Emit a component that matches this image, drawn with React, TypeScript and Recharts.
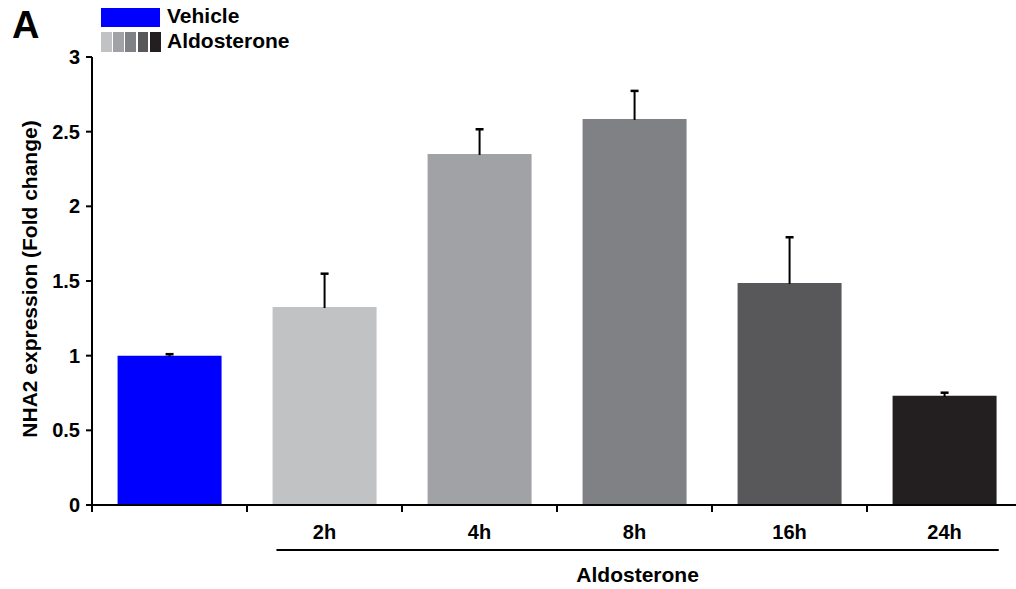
import { BarChart, Bar, XAxis, YAxis, Rectangle } from "recharts";

const FONT = '"Liberation Sans", Arial, Helvetica, sans-serif';

const categories = ["Vehicle", "2h", "4h", "8h", "16h", "24h"];
const tickLabels = ["", "2h", "4h", "8h", "16h", "24h"];
const means = [1.0, 1.326, 2.351, 2.585, 1.487, 0.732];
const sems = [0.01, 0.223, 0.165, 0.188, 0.306, 0.02];
const barColors = ["#0000FF", "#C1C2C4", "#A1A2A6", "#808185", "#58585A", "#231F20"];
const yTicks = [0, 0.5, 1, 1.5, 2, 2.5, 3];

const data = categories.map((name, i) => ({
  name,
  value: means[i],
  err: sems[i],
  color: barColors[i],
}));

// bar + one-sided (upward) error bar, error length scaled off the bar's own pixel height
const BarWithError = (props: any) => {
  const { x, y, width, height, payload } = props;
  if (!payload) return null;
  const cx = x + width / 2;
  const errPx = payload.value ? (height * payload.err) / payload.value : 0;
  const top = y - errPx;
  return (
    <g>
      <Rectangle x={x} y={y} width={width} height={height} fill={payload.color} />
      <line x1={cx} x2={cx} y1={y + 1} y2={top} stroke="#000" strokeWidth={2} />
      <line x1={cx - 4} x2={cx + 4} y1={top} y2={top} stroke="#000" strokeWidth={2.5} />
    </g>
  );
};

// tick marks sit on the band edges, labels at band centres
const XTick = (props: any) => {
  const { x, y, width, index } = props;
  const band = width / categories.length;
  const left = x - band / 2;
  return (
    <g>
      <line x1={left} x2={left} y1={y} y2={y + 7} stroke="#000" strokeWidth={2} />
      <text
        x={x}
        y={y + 34}
        textAnchor="middle"
        fontSize={20}
        fontWeight="bold"
        fontFamily={FONT}
        fill="#000"
      >
        {tickLabels[index]}
      </text>
    </g>
  );
};

const GroupLabel = (props: any) => {
  const { x, y, width } = props.viewBox;
  const band = width / categories.length;
  const x1 = x + band * 1.19;
  const x2 = x + width - band * 0.15;
  return (
    <g>
      <line x1={x1} x2={x2} y1={y + 45} y2={y + 45} stroke="#000" strokeWidth={2} />
      <text
        x={(x1 + x2) / 2}
        y={y + 77}
        textAnchor="middle"
        fontSize={21}
        fontWeight="bold"
        fontFamily={FONT}
        fill="#000"
      >
        Aldosterone
      </text>
    </g>
  );
};

const YTitle = (props: any) => {
  const { x, y, height } = props.viewBox;
  const tx = x + 37;
  const ty = y + height / 2 - 2;
  return (
    <text
      x={tx}
      y={ty}
      transform={`rotate(-90 ${tx} ${ty})`}
      textAnchor="middle"
      fontSize={21}
      fontWeight="bold"
      fontFamily={FONT}
      fill="#000"
    >
      NHA2 expression (Fold change)
    </text>
  );
};

export default function App() {
  return (
    <div
      style={{
        position: "absolute",
        left: 0,
        top: 0,
        width: 1016,
        height: 589,
        overflow: "hidden",
        background: "#fff",
        fontFamily: FONT,
      }}
    >
      <div style={{ position: "absolute", left: 12, top: 0, fontSize: 38, fontWeight: "bold", lineHeight: "50px" }}>
        A
      </div>

      {/* legend */}
      <div style={{ position: "absolute", left: 101, top: 8, width: 59, height: 19, background: barColors[0] }} />
      <div style={{ position: "absolute", left: 167, top: 3, fontSize: 21, fontWeight: "bold", lineHeight: "26px" }}>
        Vehicle
      </div>
      <div style={{ position: "absolute", left: 101, top: 32, height: 20, display: "flex", gap: 1.3 }}>
        {barColors.slice(1).map((c) => (
          <div key={c} style={{ width: 10.9, height: 20, background: c }} />
        ))}
      </div>
      <div style={{ position: "absolute", left: 167, top: 28, fontSize: 21, fontWeight: "bold", lineHeight: "26px" }}>
        Aldosterone
      </div>

      <BarChart
        width={1030}
        height={589}
        data={data}
        margin={{ top: 57, right: 8, left: 0, bottom: 0 }}
        barCategoryGap="16.5%"
      >
        <XAxis
          dataKey="name"
          height={84}
          interval={0}
          tickSize={0}
          tickMargin={0}
          tickLine={false}
          axisLine={{ stroke: "#000", strokeWidth: 2 }}
          tick={<XTick />}
          label={<GroupLabel />}
        />
        <YAxis
          domain={[0, 3]}
          ticks={yTicks}
          interval={0}
          width={92}
          tickSize={6}
          tickMargin={6}
          axisLine={{ stroke: "#000", strokeWidth: 2 }}
          tickLine={{ stroke: "#000", strokeWidth: 2 }}
          tick={{ fontSize: 20, fontWeight: "bold", fill: "#000", fontFamily: FONT }}
          label={<YTitle />}
        />
        <Bar dataKey="value" isAnimationActive={false} shape={<BarWithError />} />
      </BarChart>
    </div>
  );
}
